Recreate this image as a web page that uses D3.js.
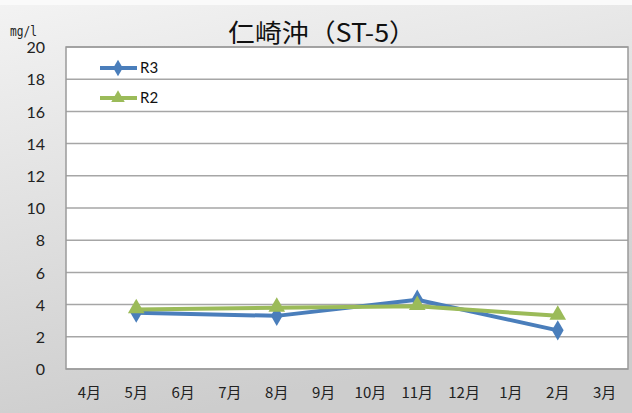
<!DOCTYPE html>
<html><head><meta charset="utf-8">
<script src="https://cdn.jsdelivr.net/npm/d3@7"></script>
<style>body{margin:0;background:#fff}svg{display:block}</style>
</head><body>
<script>
const months = ["4月","5月","6月","7月","8月","9月","10月","11月","12月","1月","2月","3月"];
const seriesNames = ["R3","R2"];
const r3Months = ["5月","8月","11月","2月"];
const r3Values = [3.5, 3.3, 4.3, 2.4];
const r2Months = ["5月","8月","11月","2月"];
const r2Values = [3.7, 3.8, 3.9, 3.3];
const yTicks = [0,2,4,6,8,10,12,14,16,18,20];
const title = "仁崎沖（ST-5）";
const unit = "mg/l";

const W = 632, H = 413;
const m = {l:66, r:4, t:47, b:44};
const svg = d3.select("body").append("svg").attr("width",W).attr("height",H);
const defs = svg.append("defs");
const g = defs.append("linearGradient").attr("id","bg").attr("x1","0").attr("y1","0").attr("x2","0.3").attr("y2","1");
g.append("stop").attr("offset","0").attr("stop-color","#f3f3f3");
g.append("stop").attr("offset","1").attr("stop-color","#cdcdcd");
svg.append("rect").attr("width",W).attr("height",H).attr("fill","url(#bg)");
svg.append("rect").attr("width",W).attr("height",5).attr("fill","#fafafa");

const x = d3.scaleBand().domain(months).range([m.l, W-m.r]);
const y = d3.scaleLinear().domain([0,20]).range([H-m.b, m.t]);

svg.append("rect").attr("x",m.l).attr("y",m.t).attr("width",W-m.r-m.l).attr("height",H-m.b-m.t)
  .attr("fill","#fff");

svg.append("g").selectAll("line").data(yTicks).join("line")
  .attr("x1",m.l).attr("x2",W-m.r).attr("y1",d=>y(d)).attr("y2",d=>y(d))
  .attr("stroke","#a6a6a6").attr("stroke-width",1.5);
svg.append("rect").attr("x",m.l).attr("y",m.t).attr("width",W-m.r-m.l).attr("height",H-m.b-m.t)
  .attr("fill","none").attr("stroke","#9a9a9a").attr("stroke-width",1.5);

const font = "Lato, 'Noto Sans CJK JP', sans-serif";
const ya = d3.axisLeft(y).tickValues(yTicks).tickSize(0).tickPadding(21);
const yg = svg.append("g").attr("transform",`translate(${m.l},0)`).call(ya);
yg.select(".domain").remove();
yg.selectAll("text").attr("font-family",font).attr("font-size",16).attr("fill","#222").attr("dy","0.35em");

const xa = d3.axisBottom(x).tickSize(0).tickPadding(18);
const xg = svg.append("g").attr("transform",`translate(0,${H-m.b})`).call(xa);
xg.select(".domain").remove();
xg.selectAll("text").attr("font-family","'Noto Sans CJK JP', sans-serif").attr("font-size",15).attr("fill","#222");

svg.append("text").attr("x",228).attr("y",42)
  .attr("textLength",188).attr("lengthAdjust","spacingAndGlyphs")
  .attr("font-family","'Noto Sans CJK JP', sans-serif").attr("font-size",25).attr("fill","#111").text(title);
svg.append("text").attr("x",10).attr("y",36).attr("textLength",27).attr("lengthAdjust","spacingAndGlyphs")
  .attr("font-family","'DejaVu Sans Mono', monospace")
  .attr("font-size",14).attr("fill","#222").text(unit);

const cx = d => x(d) + x.bandwidth()/2;
const series = [
  {name:"R3", months:r3Months, values:r3Values, color:"#4a7ebb", shape:d3.symbolDiamond},
  {name:"R2", months:r2Months, values:r2Values, color:"#9bbb59", shape:d3.symbolTriangle}
];
const line = d3.line().x(d=>cx(d[0])).y(d=>y(d[1]));
series.forEach(s => {
  const pts = s.months.map((mm,i)=>[mm,s.values[i]]);
  svg.append("path").attr("d",line(pts)).attr("fill","none").attr("stroke",s.color).attr("stroke-width",4)
    .attr("stroke-linejoin","round");
});
series.forEach(s => {
  const pts = s.months.map((mm,i)=>[mm,s.values[i]]);
  svg.append("g").selectAll("path").data(pts).join("path")
    .attr("d",d3.symbol().type(s.shape).size(120))
    .attr("transform",d=>`translate(${cx(d[0])},${y(d[1]) + (s.name==="R2"?-1:0)})`)
    .attr("fill",s.color);
});

series.forEach((s,i) => {
  const ly = 68 + i*30;
  svg.append("line").attr("x1",100).attr("x2",137).attr("y1",ly).attr("y2",ly).attr("stroke",s.color).attr("stroke-width",4);
  svg.append("path").attr("d",d3.symbol().type(s.shape).size(80)).attr("transform",`translate(118,${ly})`).attr("fill",s.color);
  svg.append("text").attr("x",140).attr("y",ly).attr("dy","0.35em").attr("font-family",font).attr("font-size",15)
    .attr("fill","#111").text(s.name);
});
</script>
</body></html>
